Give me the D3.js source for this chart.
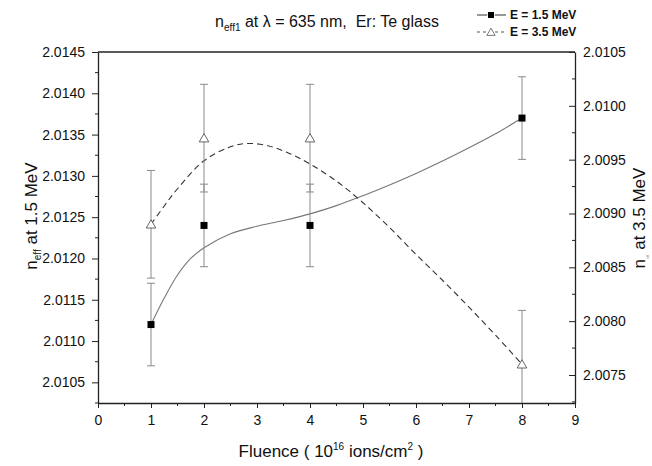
<!DOCTYPE html>
<html>
<head>
<meta charset="utf-8">
<script src="https://cdn.jsdelivr.net/npm/d3@7"></script>
<style>
  body { margin: 0; background: #fff; }
  text { font-family: "Liberation Sans", Arial, sans-serif; fill: #111; white-space: pre; }
</style>
</head>
<body>
<div id="chart"></div>
<script>
// data
var fluence = [1, 2, 4, 8];
var neff15 = [2.0112, 2.0124, 2.0124, 2.0137];
var err15 = [0.0005, 0.0005, 0.0005, 0.0005];
var neff35 = [2.0089, 2.0097, 2.0097, 2.0076];
var err35 = [0.0005, 0.0005, 0.0005, 0.0005];

// smooth fit curves
var fit15X = [1, 1.25, 1.5, 1.75, 2, 2.5, 3, 3.5, 4, 4.5, 5, 5.5, 6, 6.5, 7, 7.5, 8];
var fit15Y = [2.0112, 2.01152, 2.0118, 2.012, 2.01213, 2.0123, 2.01239, 2.01246, 2.01254,
              2.01264, 2.01276, 2.01289, 2.01303, 2.01318, 2.01334, 2.01351, 2.0137];
var fit35X = [1, 1.25, 1.5, 2, 2.5, 2.8, 3.2, 3.6, 4, 4.5, 5, 5.5, 6, 6.5, 7, 7.5, 8];
var fit35Y = [2.0089, 2.00907, 2.00923, 2.00949, 2.00962, 2.00965, 2.00963, 2.00956, 2.00946,
              2.0093, 2.0091, 2.00887, 2.00862, 2.00838, 2.00813, 2.00787, 2.0076];

var xTicks = [0, 1, 2, 3, 4, 5, 6, 7, 8, 9];
var yLeftTicks = [2.0105, 2.0110, 2.0115, 2.0120, 2.0125, 2.0130, 2.0135, 2.0140, 2.0145];
var yRightTicks = [2.0075, 2.0080, 2.0085, 2.0090, 2.0095, 2.0100, 2.0105];

var W = 652, H = 466;
var plot = {left: 98, right: 575, top: 52, bottom: 403};

var svg = d3.select("#chart").append("svg")
    .attr("width", W).attr("height", H);

var x = d3.scaleLinear().domain([0, 9]).range([plot.left, plot.right]);
var yL = d3.scaleLinear().domain([2.01025, 2.0145]).range([plot.bottom, plot.top]);
var yR = d3.scaleLinear().domain([2.00724, 2.0105]).range([plot.bottom, plot.top]);

svg.append("clipPath").attr("id", "clip")
  .append("rect")
    .attr("x", plot.left).attr("y", plot.top)
    .attr("width", plot.right - plot.left).attr("height", plot.bottom - plot.top);

var g = svg.append("g").attr("clip-path", "url(#clip)");

// fit curves
var line15 = d3.line()
    .x(function(d) { return x(d[0]); })
    .y(function(d) { return yL(d[1]); })
    .curve(d3.curveCatmullRom);
var line35 = d3.line()
    .x(function(d) { return x(d[0]); })
    .y(function(d) { return yR(d[1]); })
    .curve(d3.curveCatmullRom);

g.append("path")
    .datum(d3.zip(fit15X, fit15Y))
    .attr("d", line15)
    .attr("fill", "none")
    .attr("stroke", "#777")
    .attr("stroke-width", 1.1);

g.append("path")
    .datum(d3.zip(fit35X, fit35Y))
    .attr("d", line35)
    .attr("fill", "none")
    .attr("stroke", "#333")
    .attr("stroke-width", 1.1)
    .attr("stroke-dasharray", "6,4");

// error bars
function errorBars(vals, errs, yScale) {
  var eb = g.append("g").attr("stroke", "#8a8a8a").attr("stroke-width", 1);
  fluence.forEach(function(f, i) {
    var cx = x(f), y1 = yScale(vals[i] + errs[i]), y2 = yScale(vals[i] - errs[i]);
    eb.append("line").attr("x1", cx).attr("x2", cx).attr("y1", y1).attr("y2", y2);
    eb.append("line").attr("x1", cx - 4).attr("x2", cx + 4).attr("y1", y1).attr("y2", y1);
    eb.append("line").attr("x1", cx - 4).attr("x2", cx + 4).attr("y1", y2).attr("y2", y2);
  });
}
errorBars(neff15, err15, yL);
errorBars(neff35, err35, yR);

// markers
var tri = d3.symbol().type(d3.symbolTriangle).size(40);
g.selectAll(".tri")
  .data(d3.zip(fluence, neff35))
  .enter().append("path")
    .attr("transform", function(d) { return "translate(" + x(d[0]) + "," + (yR(d[1]) + 1) + ")"; })
    .attr("d", tri)
    .attr("fill", "#fff")
    .attr("stroke", "#666")
    .attr("stroke-width", 1);

g.selectAll(".sq")
  .data(d3.zip(fluence, neff15))
  .enter().append("rect")
    .attr("x", function(d) { return x(d[0]) - 3.5; })
    .attr("y", function(d) { return yL(d[1]) - 3.5; })
    .attr("width", 7).attr("height", 7)
    .attr("fill", "#000");

// axes
var axisColor = "#222";
svg.append("line").attr("x1", plot.left).attr("x2", plot.right)
    .attr("y1", plot.top).attr("y2", plot.top)
    .attr("stroke", axisColor).attr("stroke-width", 1.3);

var xAxis = svg.append("g")
    .attr("transform", "translate(0," + plot.bottom + ")")
    .call(d3.axisBottom(x).tickValues(xTicks).tickSize(5).tickSizeOuter(0).tickFormat(d3.format("d")));
xAxis.append("g").selectAll("line")
  .data(d3.range(0.5, 9, 1))
  .enter().append("line")
    .attr("x1", function(d) { return x(d); }).attr("x2", function(d) { return x(d); })
    .attr("y1", 0).attr("y2", 3).attr("stroke", axisColor);

var yAxisL = svg.append("g")
    .attr("transform", "translate(" + plot.left + ",0)")
    .call(d3.axisLeft(yL).tickValues(yLeftTicks).tickSize(6).tickSizeOuter(0).tickFormat(d3.format(".4f")));
yAxisL.append("g").selectAll("line")
  .data(yLeftTicks.map(function(v) { return v - 0.00025; }))
  .enter().append("line")
    .attr("x1", -3).attr("x2", 0)
    .attr("y1", function(d) { return yL(d); }).attr("y2", function(d) { return yL(d); })
    .attr("stroke", axisColor);

var yAxisR = svg.append("g")
    .attr("transform", "translate(" + plot.right + ",0)")
    .call(d3.axisRight(yR).tickValues(yRightTicks).tickSize(-6).tickSizeOuter(0).tickFormat(d3.format(".4f")));
yAxisR.selectAll(".tick text").attr("x", 8);
yAxisR.append("g").selectAll("line")
  .data(yRightTicks.map(function(v) { return v - 0.00025; }))
  .enter().append("line")
    .attr("x1", -3).attr("x2", 0)
    .attr("y1", function(d) { return yR(d); }).attr("y2", function(d) { return yR(d); })
    .attr("stroke", axisColor);

[xAxis, yAxisL, yAxisR].forEach(function(a) {
  a.select(".domain").attr("stroke", axisColor).attr("stroke-width", 1.3);
  a.selectAll(".tick line").attr("stroke", axisColor);
  a.selectAll(".tick text")
    .style("font-family", "'Liberation Sans', Arial, sans-serif")
    .style("font-size", "14px").attr("fill", "#111");
});
xAxis.selectAll(".tick text").attr("y", 12);
yAxisL.selectAll(".tick text").attr("x", -13);

// title
var title = svg.append("text").attr("x", 327).attr("y", 27)
    .attr("text-anchor", "middle").style("font-size", "16px");
title.append("tspan").text("n");
title.append("tspan").attr("dy", 4).style("font-size", "10px").text("eff1");
title.append("tspan").attr("dy", -4).text(" at \u03bb = 635 nm,  Er: Te glass");

// axis titles
var ly = svg.append("text")
    .attr("transform", "translate(37,216) rotate(-90)")
    .attr("text-anchor", "middle").style("font-size", "17px");
ly.append("tspan").text("n");
ly.append("tspan").attr("dy", 4).style("font-size", "10px").text("eff");
ly.append("tspan").attr("dy", -4).text(" at 1.5 MeV");

var ry = svg.append("text")
    .attr("transform", "translate(645,218) rotate(-90)")
    .attr("text-anchor", "middle").style("font-size", "17px");
ry.append("tspan").text("n");
ry.append("tspan").attr("dy", 4).style("font-size", "4px").attr("fill", "#999").text("eff");
ry.append("tspan").attr("dy", -4).text(" at 3.5 MeV");

var xt = svg.append("text")
    .attr("x", 331).attr("y", 457)
    .attr("text-anchor", "middle").style("font-size", "17px");
xt.append("tspan").text("Fluence ( 10");
xt.append("tspan").attr("dy", -7).style("font-size", "10px").text("16");
xt.append("tspan").attr("dy", 7).text(" ions/cm");
xt.append("tspan").attr("dy", -7).style("font-size", "10px").text("2");
xt.append("tspan").attr("dy", 7).text(" )");

// legend
var legend = svg.append("g");
var legendItems = [
  {label: "E = 1.5 MeV", y: 15, dash: null, stroke: "#333"},
  {label: "E = 3.5 MeV", y: 32, dash: "3,3", stroke: "#555"}
];
legendItems.forEach(function(item, i) {
  legend.append("line")
    .attr("x1", 477).attr("x2", 506).attr("y1", item.y).attr("y2", item.y)
    .attr("stroke", item.stroke).attr("stroke-width", 1)
    .attr("stroke-dasharray", item.dash);
  if (i === 0) {
    legend.append("rect").attr("x", 488).attr("y", item.y - 3)
      .attr("width", 6).attr("height", 6).attr("fill", "#000")
      .attr("stroke", "#fff").attr("stroke-width", 1.5).attr("paint-order", "stroke");
  } else {
    legend.append("path")
      .attr("transform", "translate(491," + (item.y + 1) + ")")
      .attr("d", d3.symbol().type(d3.symbolTriangle).size(30))
      .attr("fill", "#fff").attr("stroke", "#fff").attr("stroke-width", 3);
    legend.append("path")
      .attr("transform", "translate(491," + (item.y + 1) + ")")
      .attr("d", d3.symbol().type(d3.symbolTriangle).size(30))
      .attr("fill", "#fff").attr("stroke", "#777").attr("stroke-width", 1);
  }
  legend.append("text")
    .attr("x", 510).attr("y", item.y + 4)
    .style("font-size", "12px").style("font-weight", "bold")
    .text(item.label);
});
</script>
</body>
</html>
